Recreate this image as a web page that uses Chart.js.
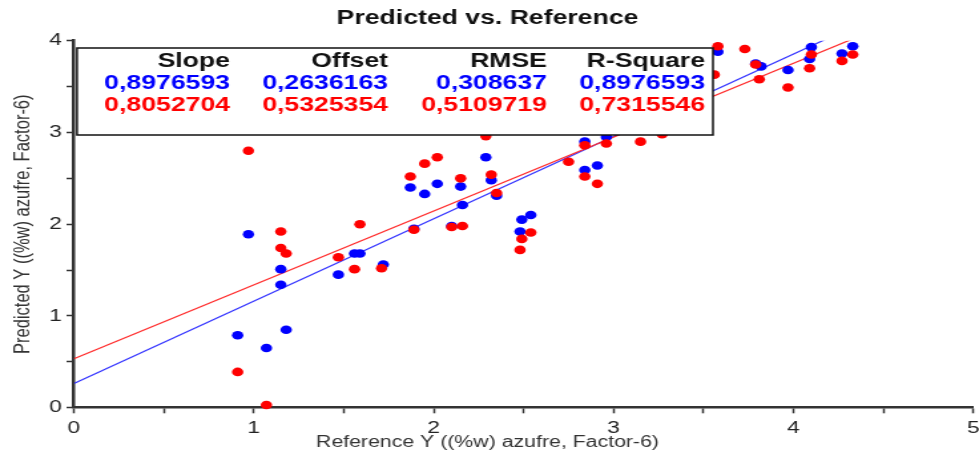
<!DOCTYPE html>
<html>
<head>
<meta charset="utf-8">
<title>Predicted vs. Reference</title>
<script src="https://cdn.jsdelivr.net/npm/chart.js@4/dist/chart.umd.min.js"></script>
<style>
  html, body { margin: 0; padding: 0; background: #fff; overflow: hidden; }
  /* the plot is drawn narrow and widened on screen */
  #wrap {
    position: absolute; left: 0; top: 0;
    width: 736px; height: 460px;
    transform: scaleX(1.33016);
    transform-origin: 0 0;
  }
</style>
</head>
<body>
<div id="wrap"><canvas id="pred-chart"></canvas></div>
<script>
/* ===============================
   DATA
================================= */
// calibration set (blue)
const blueRef  = [0.97, 1.15, 1.15, 1.18, 0.91, 1.07, 1.47, 1.56, 1.59, 1.72, 1.87, 1.95, 2.02, 2.15, 2.16, 1.89, 2.10, 2.29, 2.32, 2.35, 2.49, 2.54, 2.48, 2.84, 2.91, 2.84, 2.96, 3.58, 3.79, 3.82, 3.97, 4.10, 4.09, 4.27, 4.33];
const bluePred = [1.89, 1.51, 1.34, 0.85, 0.79, 0.65, 1.45, 1.68, 1.68, 1.56, 2.40, 2.33, 2.44, 2.41, 2.21, 1.95, 1.98, 2.73, 2.48, 2.31, 2.05, 2.10, 1.92, 2.59, 2.64, 2.90, 2.95, 3.88, 3.75, 3.72, 3.68, 3.93, 3.80, 3.86, 3.94];

// validation set (red)
const redRef  = [0.97, 1.15, 1.15, 1.18, 0.91, 1.07, 1.47, 1.56, 1.59, 1.71, 1.87, 1.95, 2.02, 2.15, 1.89, 2.10, 2.16, 2.29, 2.32, 2.35, 2.54, 2.49, 2.48, 2.75, 2.84, 2.91, 2.84, 2.96, 3.15, 3.27, 3.58, 3.73, 3.56, 3.79, 3.81, 3.97, 4.10, 4.09, 4.27, 4.33];
const redPred = [2.80, 1.92, 1.74, 1.68, 0.39, 0.03, 1.64, 1.51, 2.00, 1.52, 2.52, 2.66, 2.73, 2.50, 1.94, 1.97, 1.98, 2.96, 2.54, 2.34, 1.91, 1.84, 1.72, 2.68, 2.52, 2.44, 2.86, 2.88, 2.90, 2.98, 3.94, 3.91, 3.63, 3.74, 3.58, 3.49, 3.85, 3.70, 3.78, 3.85];

// regression statistics
const statNames = ["Slope", "Offset", "RMSE", "R-Square"];
const blueStats = [0.8976593, 0.2636163, 0.308637, 0.8976593];
const redStats  = [0.8052704, 0.5325354, 0.5109719, 0.7315546];

const X_MIN = 0, X_MAX = 5;

/* ===============================
   HELPERS
================================= */
function toPoints(xs, ys) {
  return xs.map((x, i) => ({ x: x, y: ys[i] }));
}

function fitLine(stats) {
  const slope = stats[0], offset = stats[1];
  return [
    { x: X_MIN, y: offset + slope * X_MIN },
    { x: X_MAX, y: offset + slope * X_MAX },
  ];
}

function fmt(v) {
  return String(v).replace(".", ",");
}

/* ===============================
   STATS TABLE PLUGIN
================================= */
const statsBox = {
  id: "statsBox",
  afterDatasetsDraw(chart) {
    const { ctx, chartArea } = chart;
    const left = chartArea.left + 2.3;
    const top = 48;
    const right = 536;
    const bottom = 135;
    const colRight = [172.9, 291.7, 411.2, 530];

    ctx.save();
    ctx.fillStyle = "#fff";
    ctx.fillRect(left, top, right - left, bottom - top);
    ctx.strokeStyle = "#111";
    ctx.lineWidth = 1.5;
    ctx.strokeRect(left, top, right - left, bottom - top);

    ctx.font = 'bold 20px "Liberation Sans", Arial, sans-serif';
    ctx.textAlign = "right";
    ctx.textBaseline = "alphabetic";
    statNames.forEach((name, i) => {
      ctx.fillStyle = "#111";
      ctx.fillText(name, colRight[i], 67);
      ctx.fillStyle = "#0000ff";
      ctx.fillText(fmt(blueStats[i]), colRight[i], 89);
      ctx.fillStyle = "#ff0000";
      ctx.fillText(fmt(redStats[i]), colRight[i], 111);
    });
    ctx.restore();
  },
};

/* ===============================
   CHART
================================= */
Chart.defaults.font.family = '"Liberation Sans", Arial, sans-serif';
Chart.defaults.color = "#222";

const axisTicks = {
  drawOnChartArea: false,
  drawTicks: true,
  tickLength: 5.6,
  tickWidth: 1.5,
  tickColor: "#333",
};

new Chart(document.getElementById("pred-chart"), {
  type: "scatter",
  data: {
    datasets: [
      {
        label: "Validation",
        data: toPoints(redRef, redPred),
        backgroundColor: "#ff0000",
        borderWidth: 0,
        pointRadius: 4.3,
        clip: false,
        order: 1,
      },
      {
        label: "Calibration",
        data: toPoints(blueRef, bluePred),
        backgroundColor: "#0000ff",
        borderWidth: 0,
        pointRadius: 4.3,
        clip: false,
        order: 2,
      },
      {
        label: "Validation fit",
        data: fitLine(redStats),
        showLine: true,
        borderColor: "#ff2a2a",
        borderWidth: 1.2,
        pointRadius: 0,
        order: 3,
      },
      {
        label: "Calibration fit",
        data: fitLine(blueStats),
        showLine: true,
        borderColor: "#3333ff",
        borderWidth: 1.2,
        pointRadius: 0,
        order: 4,
      },
    ],
  },
  options: {
    responsive: true,
    maintainAspectRatio: false,
    animation: false,
    layout: { padding: { left: 0, right: 3, top: 0, bottom: 0 } },
    plugins: {
      legend: { display: false },
      tooltip: { enabled: false },
      title: {
        display: true,
        text: "Predicted vs. Reference",
        color: "#111",
        font: { size: 20, weight: "bold" },
        padding: { top: 6, bottom: 10.7 },
      },
      subtitle: {
        display: true,
        text: "Reference Y ((%w) azufre, Factor-6)",
        position: "bottom",
        color: "#333",
        font: { size: 16 },
        padding: { top: 0, bottom: 7.5 },
      },
    },
    scales: {
      x: {
        type: "linear",
        min: X_MIN,
        max: X_MAX,
        grid: axisTicks,
        border: { display: true, color: "#333", width: 2.5 },
        ticks: {
          stepSize: 0.5,
          padding: 4.5,
          font: { size: 17 },
          maxRotation: 0,
          callback: (v) => (Number.isInteger(v) ? v : ""),
        },
        afterFit(scale) {
          scale.height = 25.6;
          scale.paddingRight = 0;
        },
      },
      y: {
        type: "linear",
        min: 0,
        max: 4,
        grid: axisTicks,
        border: { display: true, color: "#333", width: 2.5 },
        ticks: {
          stepSize: 0.5,
          padding: 3.5,
          font: { size: 17 },
          callback: (v) => (Number.isInteger(v) ? v : ""),
        },
        title: {
          display: true,
          text: "Predicted Y ((%w) azufre, Factor-6)",
          color: "#333",
          font: { size: 16.5 },
          padding: { top: 8, bottom: 0 },
        },
        afterFit(scale) {
          scale.width = 55.6;
        },
      },
    },
  },
  plugins: [statsBox],
});
</script>
</body>
</html>
